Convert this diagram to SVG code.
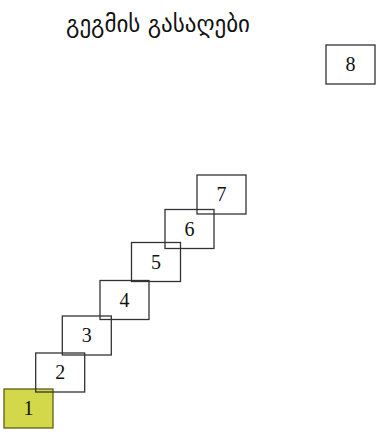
<svg xmlns="http://www.w3.org/2000/svg" width="383" height="439" viewBox="0 0 383 439">
<style>
.b{fill:none;stroke:#333;stroke-width:1.3}
.n{font-family:"Liberation Serif","DejaVu Serif",serif;font-size:20px;fill:#111;text-anchor:middle}
.t{font-family:"DejaVu Sans","Noto Sans",sans-serif;font-size:23px;fill:#111;text-anchor:middle}
</style>
<rect width="383" height="439" fill="#fff"/>
<text class="t" x="158" y="32">გეგმის გასაღები</text>
<g id="node1"><rect x="4" y="389" width="49" height="39" fill="#d3d84a" stroke="#5e5e1a" stroke-width="1.3"/><text class="n" x="28.5" y="415">1</text></g>
<g id="node2"><rect class="b" x="35.7" y="353" width="49" height="39"/><text class="n" x="60.2" y="379">2</text></g>
<g id="node3"><rect class="b" x="62.3" y="316" width="49" height="39"/><text class="n" x="86.8" y="342">3</text></g>
<g id="node4"><rect class="b" x="100" y="280.5" width="49" height="39"/><text class="n" x="124.5" y="306.5">4</text></g>
<g id="node5"><rect class="b" x="131.5" y="242.5" width="49" height="39"/><text class="n" x="156" y="268.5">5</text></g>
<g id="node6"><rect class="b" x="165" y="209.5" width="49" height="39"/><text class="n" x="189.5" y="235.5">6</text></g>
<g id="node7"><rect class="b" x="197" y="175" width="49" height="39"/><text class="n" x="221.5" y="201">7</text></g>
<g id="node8"><rect class="b" x="326" y="45" width="49" height="39"/><text class="n" x="350.5" y="71">8</text></g>
<g id="connectors"></g>
</svg>
